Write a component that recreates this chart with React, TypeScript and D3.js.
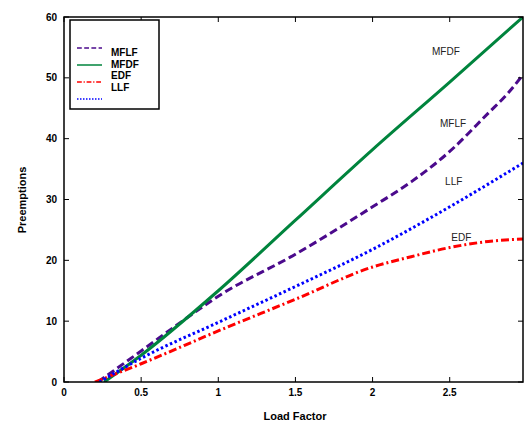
import React, { useRef, useEffect } from 'react';
import * as d3 from 'd3';

// Load factor / preemption values
const mfdfX = [0.26, 0.5, 1, 1.5, 2, 2.5, 2.975];
const mfdfY = [0, 4.4, 15.0, 26.6, 38.2, 49.3, 60];

const mflfX = [0.22, 0.5, 0.8, 1, 1.5, 2, 2.25, 2.5, 2.75, 2.875, 2.975];
const mflfY = [0, 5.1, 10.6, 14.1, 21, 28.8, 32.9, 37.9, 44.2, 47.4, 50.5];

const llfX = [0.23, 0.5, 1, 1.5, 2, 2.5, 2.975];
const llfY = [0, 3.9, 9.8, 15.7, 21.8, 28.8, 36];

const edfX = [0.2, 0.5, 1, 1.5, 2, 2.25, 2.5, 2.75, 2.975];
const edfY = [0, 3, 8.4, 13.6, 18.9, 20.6, 22.1, 23.1, 23.5];

const xTicks = [0, 0.5, 1, 1.5, 2, 2.5];
const yTicks = [0, 10, 20, 30, 40, 50, 60];

const legendNames = ['MFLF', 'MFDF', 'EDF', 'LLF'];

function App() {
  const svgRef = useRef<SVGSVGElement | null>(null);

  useEffect(() => {
    const width = 524;
    const height = 424;
    const m = { left: 64, right: 1, top: 17, bottom: 42 };

    const svg = d3.select(svgRef.current)
      .attr('width', width)
      .attr('height', height)
      .style('position', 'absolute')
      .style('left', 0)
      .style('top', 0)
      .style('font-family', 'Liberation Sans, Arial, sans-serif');

    svg.selectAll('*').remove();

    const x = d3.scaleLinear().domain([0, 2.975]).range([m.left, width - m.right]);
    const y = d3.scaleLinear().domain([0, 60]).range([height - m.bottom, m.top]);

    const series = [
      { name: 'MFLF', xs: mflfX, ys: mflfY, color: '#4b0a8c', dash: '8,4', w: 3 },
      { name: 'MFDF', xs: mfdfX, ys: mfdfY, color: '#00843d', dash: null, w: 3 },
      { name: 'EDF', xs: edfX, ys: edfY, color: '#ff0000', dash: '8,3,2,3', w: 3 },
      { name: 'LLF', xs: llfX, ys: llfY, color: '#0000ff', dash: '2.5,2.5', w: 3 },
    ];

    const line = d3.line<[number, number]>()
      .x(d => x(d[0]))
      .y(d => y(d[1]))
      .curve(d3.curveMonotoneX);

    svg.append('clipPath').attr('id', 'plotclip')
      .append('rect')
      .attr('x', m.left).attr('y', m.top)
      .attr('width', width - m.right - m.left)
      .attr('height', height - m.bottom - m.top);

    const plot = svg.append('g').attr('clip-path', 'url(#plotclip)');
    series.forEach(s => {
      const pts = s.xs.map((v, i) => [v, s.ys[i]] as [number, number]);
      plot.append('path')
        .attr('d', line(pts))
        .attr('fill', 'none')
        .attr('stroke', s.color)
        .attr('stroke-width', s.w)
        .attr('stroke-dasharray', s.dash);
    });

    // Axes box with inward ticks on all four sides
    const x0 = m.left, x1 = width - m.right, y0 = height - m.bottom, y1 = m.top;
    const frame = svg.append('g').attr('stroke', '#000').attr('fill', 'none');
    frame.append('rect')
      .attr('x', x0).attr('y', y1)
      .attr('width', x1 - x0).attr('height', y0 - y1)
      .attr('stroke-width', 1.5);
    xTicks.forEach(t => {
      frame.append('line').attr('x1', x(t)).attr('x2', x(t)).attr('y1', y0).attr('y2', y0 - 5);
      frame.append('line').attr('x1', x(t)).attr('x2', x(t)).attr('y1', y1).attr('y2', y1 + 5);
    });
    yTicks.forEach(t => {
      frame.append('line').attr('x1', x0).attr('x2', x0 + 5).attr('y1', y(t)).attr('y2', y(t));
      frame.append('line').attr('x1', x1).attr('x2', x1 - 5).attr('y1', y(t)).attr('y2', y(t));
    });

    svg.append('g').selectAll('text')
      .data(xTicks)
      .enter()
      .append('text')
      .attr('x', d => x(d))
      .attr('y', y0 + 14)
      .attr('text-anchor', 'middle')
      .attr('font-size', 10)
      .attr('font-weight', 'bold')
      .text(d => String(d));

    svg.append('g').selectAll('text')
      .data(yTicks)
      .enter()
      .append('text')
      .attr('x', x0 - 7)
      .attr('y', d => y(d) + 3.5)
      .attr('text-anchor', 'end')
      .attr('font-size', 10)
      .attr('font-weight', 'bold')
      .text(d => String(d));

    svg.append('text')
      .attr('x', 295)
      .attr('y', 420)
      .attr('text-anchor', 'middle')
      .attr('font-size', 11)
      .attr('font-weight', 'bold')
      .text('Load Factor');

    svg.append('text')
      .attr('transform', 'translate(26,200) rotate(-90)')
      .attr('text-anchor', 'middle')
      .attr('font-size', 11)
      .attr('font-weight', 'bold')
      .text('Preemptions');

    // In-plot labels
    const labels = [
      { t: 'MFDF', lx: 2.385, ly: 53.7 },
      { t: 'MFLF', lx: 2.437, ly: 42.0 },
      { t: 'LLF', lx: 2.47, ly: 32.4 },
      { t: 'EDF', lx: 2.51, ly: 23.1 },
    ];
    svg.append('g').selectAll('text')
      .data(labels)
      .enter()
      .append('text')
      .attr('x', d => x(d.lx))
      .attr('y', d => y(d.ly))
      .attr('font-size', 10)
      .attr('fill', '#222')
      .text(d => d.t);

    // Legend (lines and names are offset, as in the original figure)
    const lg = svg.append('g');
    lg.append('rect')
      .attr('x', 70).attr('y', 20)
      .attr('width', 89).attr('height', 89)
      .attr('fill', '#fff')
      .attr('stroke', '#000')
      .attr('stroke-width', 1.5);
    series.forEach((s, i) => {
      lg.append('line')
        .attr('x1', 77).attr('x2', 102)
        .attr('y1', 48 + i * 17).attr('y2', 48 + i * 17)
        .attr('stroke', s.color)
        .attr('stroke-width', 1.5)
        .attr('stroke-dasharray', s.dash ? s.dash.split(',').map(v => +v * 0.6).join(',') : null);
    });
    legendNames.forEach((n, i) => {
      lg.append('text')
        .attr('x', 111)
        .attr('y', 56 + i * 11.7)
        .attr('font-size', 10)
        .attr('font-weight', 'bold')
        .text(n);
    });
  }, []);

  return (
    <div>
      <svg ref={svgRef}></svg>
    </div>
  );
}

export default App;
